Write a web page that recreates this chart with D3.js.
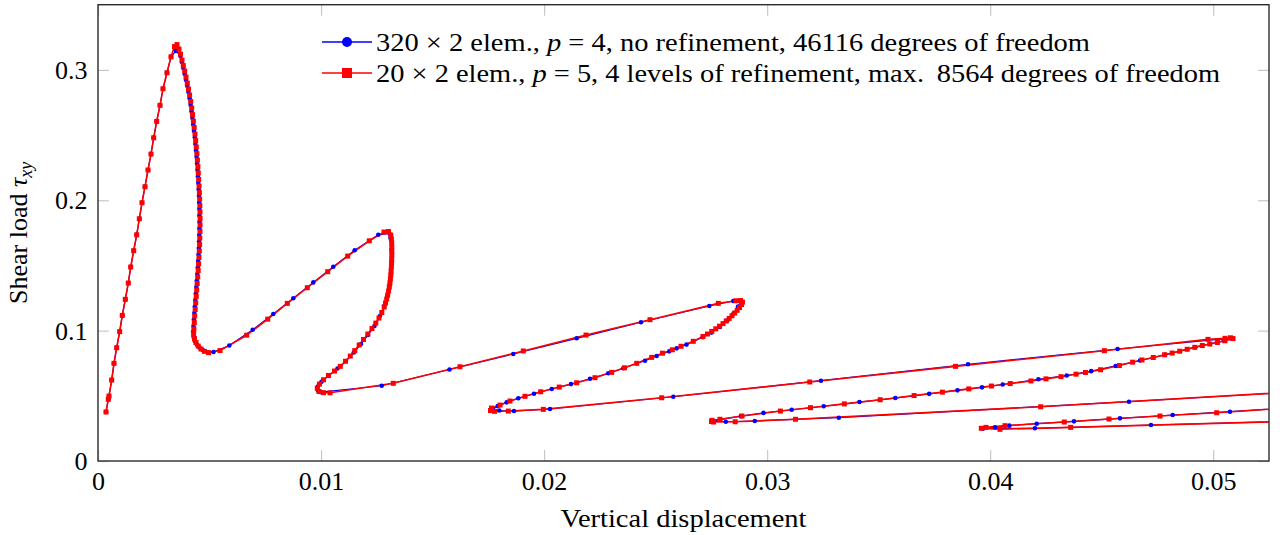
<!DOCTYPE html>
<html>
<head>
<meta charset="utf-8">
<script src="https://cdn.jsdelivr.net/npm/d3@7"></script>
<style>
  html, body { margin: 0; padding: 0; background: #fff; }
  svg { display: block; }
  text { font-family: "Liberation Serif", "Times New Roman", serif; fill: #000; }
</style>
</head>
<body>
<svg id="chart" width="1280" height="535"></svg>
<script>
// ---- axis ticks ----
const xTicks = [0, 0.01, 0.02, 0.03, 0.04, 0.05];
const xTickLabels = ["0", "0.01", "0.02", "0.03", "0.04", "0.05"];
const yTicks = [0, 0.1, 0.2, 0.3];
const yTickLabels = ["0", "0.1", "0.2", "0.3"];

// ---- load-displacement path, 320 x 2 elements, p = 4 ----
const blueX = [
  0.000359, 0.000462, 0.000493, 0.000614, 0.000717, 0.000838, 0.000973, 0.001089, 0.001224, 0.001358,
  0.001466, 0.001601, 0.001735, 0.001852, 0.001973, 0.002107, 0.002242, 0.002376, 0.002497, 0.002632,
  0.002780, 0.002914, 0.003093, 0.003273, 0.003497,
  0.003699, 0.003761, 0.003824, 0.003887, 0.003945, 0.004004, 0.004053, 0.004107, 0.004152, 0.004192,
  0.004232, 0.004268, 0.004304, 0.004340, 0.004367, 0.004394, 0.004420, 0.004443, 0.004461, 0.004479,
  0.004497, 0.004515, 0.004528, 0.004537, 0.004546, 0.004548, 0.004551, 0.004548, 0.004542, 0.004533,
  0.004521, 0.004508, 0.004492, 0.004474, 0.004454, 0.004432, 0.004409, 0.004387, 0.004364, 0.004342,
  0.004320, 0.004300, 0.004282, 0.004268, 0.004286, 0.004340, 0.004430, 0.004551, 0.004698, 0.005178,
  0.005887, 0.006936, 0.007859, 0.008756, 0.009652, 0.010549, 0.011508, 0.012567, 0.013069,
  0.013114, 0.013163, 0.013158, 0.013136, 0.013078, 0.012979, 0.012836, 0.012643, 0.012396, 0.012105,
  0.011791, 0.011468, 0.011118, 0.010737, 0.010334, 0.010020, 0.009854, 0.009863, 0.009998,
  0.012719, 0.015759, 0.018619, 0.021461, 0.024344, 0.027406, 0.028482, 0.028827,
  0.028693, 0.028491, 0.028222, 0.027886, 0.027505, 0.027110, 0.026384, 0.025945, 0.025613, 0.025048,
  0.024523, 0.023551, 0.022878, 0.022058, 0.021206, 0.020341, 0.019547, 0.018843, 0.018323, 0.017920,
  0.017709, 0.017992, 0.018650, 0.020264,
  0.025792, 0.032414, 0.039005, 0.045712, 0.050796,
  0.050482, 0.049182, 0.047837, 0.046716, 0.045626, 0.044528, 0.043430, 0.042161, 0.040560, 0.039632,
  0.038534, 0.037265, 0.035745, 0.034140, 0.032535, 0.031100, 0.029836, 0.028823, 0.027886, 0.027617,
  0.028146, 0.029446, 0.033212, 0.046223, 0.0560, 0.0560,
  0.050750, 0.048182, 0.045819, 0.043757, 0.042085, 0.040856, 0.040215, 0.039677,
  0.042008, 0.047209, 0.0560
];
const blueY = [
  0.0376, 0.0473, 0.0498, 0.0621, 0.0749, 0.0869, 0.0992, 0.1117, 0.1240, 0.1365,
  0.1488, 0.1613, 0.1735, 0.1858, 0.1981, 0.2104, 0.2232, 0.2354, 0.2479, 0.2605,
  0.2728, 0.2855, 0.2978, 0.3100, 0.3146,
  0.3106, 0.3060, 0.3014, 0.2968, 0.2922, 0.2876, 0.2830, 0.2780, 0.2730, 0.2680,
  0.2630, 0.2581, 0.2531, 0.2481, 0.2431, 0.2381, 0.2331, 0.2281, 0.2232, 0.2182,
  0.2132, 0.2082, 0.2032, 0.1982, 0.1933, 0.1883, 0.1833, 0.1783, 0.1733, 0.1683,
  0.1633, 0.1584, 0.1534, 0.1484, 0.1434, 0.1384, 0.1334, 0.1285, 0.1235, 0.1185,
  0.1135, 0.1085, 0.1035, 0.0993, 0.0951, 0.0920, 0.0893, 0.0870, 0.0851, 0.0836,
  0.0886, 0.1007, 0.1127, 0.1248, 0.1370, 0.1490, 0.1616, 0.1735, 0.1745,
  0.1710, 0.1618, 0.1526, 0.1434, 0.1350, 0.1265, 0.1189, 0.1112, 0.1035, 0.0966,
  0.0897, 0.0832, 0.0767, 0.0709, 0.0653, 0.0607, 0.0571, 0.0541, 0.0528,
  0.0577, 0.0702, 0.0821, 0.0941, 0.1064, 0.1189, 0.1227, 0.1223,
  0.1185, 0.1131, 0.1079, 0.1028, 0.0985, 0.0949, 0.0893, 0.0864, 0.0841, 0.0805,
  0.0769, 0.0711, 0.0673, 0.0631, 0.0590, 0.0552, 0.0516, 0.0481, 0.0450, 0.0422,
  0.0399, 0.0387, 0.0383, 0.0399,
  0.0493, 0.0616, 0.0742, 0.0859, 0.0942,
  0.0922, 0.0873, 0.0814, 0.0771, 0.0729, 0.0689, 0.0656, 0.0627, 0.0587, 0.0565,
  0.0542, 0.0515, 0.0483, 0.0452, 0.0420, 0.0393, 0.0369, 0.0344, 0.0318, 0.0305,
  0.0301, 0.0307, 0.0332, 0.0455, 0.0553, 0.0436,
  0.0378, 0.0353, 0.0327, 0.0304, 0.0286, 0.0271, 0.0258, 0.0248,
  0.0251, 0.0276, 0.0317
];

// ---- load-displacement path, 20 x 2 elements, p = 5, adaptive ----
const redX = [
  0.000359, 0.000462, 0.000493, 0.000614, 0.000717, 0.000838, 0.000973, 0.001089, 0.001224, 0.001358,
  0.001466, 0.001601, 0.001735, 0.001852, 0.001973, 0.002107, 0.002242, 0.002376, 0.002497, 0.002632,
  0.002780, 0.002914, 0.003093, 0.003273, 0.003430, 0.003542,
  0.003631, 0.003699, 0.003766, 0.003824, 0.003887, 0.003945, 0.004004, 0.004057, 0.004107, 0.004156,
  0.004200, 0.004241, 0.004277, 0.004313, 0.004349, 0.004380, 0.004407, 0.004434, 0.004456, 0.004479,
  0.004497, 0.004515, 0.004533, 0.004546, 0.004559, 0.004568, 0.004573, 0.004577, 0.004577, 0.004573,
  0.004564, 0.004555, 0.004542, 0.004528, 0.004510, 0.004492, 0.004470, 0.004447, 0.004425, 0.004403,
  0.004380, 0.004358, 0.004335, 0.004317, 0.004300, 0.004286, 0.004326, 0.004394, 0.004492, 0.004618,
  0.004775, 0.004954, 0.005470,
  0.006667, 0.007608, 0.008487, 0.009384, 0.010298, 0.011195, 0.012163, 0.012822, 0.013024,
  0.013127, 0.013154, 0.013167, 0.013172, 0.013172, 0.013172, 0.013167, 0.013163, 0.013154, 0.013140,
  0.013127, 0.013109, 0.013087, 0.013060, 0.013028, 0.012988, 0.012943, 0.012890, 0.012831, 0.012724,
  0.012598, 0.012455, 0.012284, 0.012096, 0.011903, 0.011710, 0.011513, 0.011311, 0.011096, 0.010863,
  0.010603, 0.010334, 0.010110, 0.009930, 0.009832, 0.009908, 0.010110, 0.010401,
  0.013239, 0.016229, 0.019067, 0.021878, 0.024748, 0.027810, 0.028603, 0.028805, 0.028895,
  0.028850, 0.028760, 0.028657, 0.028545, 0.028424, 0.028299, 0.028164, 0.028021, 0.027864, 0.027697,
  0.027518, 0.027326, 0.027124, 0.026689, 0.026138, 0.025747, 0.025308, 0.024824, 0.024151, 0.023605,
  0.023031, 0.022282, 0.021461, 0.020681, 0.019848, 0.019144, 0.018471, 0.018023, 0.017642, 0.017597,
  0.017776, 0.018395, 0.019964,
  0.025272, 0.031912, 0.038448, 0.045120, 0.049765, 0.050527, 0.050773, 0.050886,
  0.050522, 0.050186, 0.049845, 0.049509, 0.049173, 0.048832, 0.048496, 0.048159, 0.047819, 0.047312,
  0.046805, 0.046384, 0.045792, 0.044949, 0.044272, 0.043851, 0.043174, 0.042502, 0.041825, 0.040897,
  0.040054, 0.039040, 0.037857, 0.036588, 0.035068, 0.033463, 0.031943, 0.030594, 0.028872, 0.027886,
  0.027527, 0.027505, 0.027594,
  0.028567, 0.031271, 0.042264, 0.0560, 0.0560,
  0.050154, 0.047612, 0.045326, 0.043322, 0.040663, 0.039811, 0.039601,
  0.040439, 0.043609, 0.0560
];
const redY = [
  0.0376, 0.0473, 0.0498, 0.0621, 0.0749, 0.0869, 0.0992, 0.1117, 0.1240, 0.1365,
  0.1488, 0.1613, 0.1735, 0.1858, 0.1981, 0.2104, 0.2232, 0.2354, 0.2479, 0.2605,
  0.2728, 0.2855, 0.2978, 0.3100, 0.3179, 0.3194,
  0.3160, 0.3121, 0.3075, 0.3033, 0.2991, 0.2945, 0.2899, 0.2853, 0.2807, 0.2757,
  0.2707, 0.2657, 0.2607, 0.2558, 0.2508, 0.2458, 0.2408, 0.2358, 0.2308, 0.2258,
  0.2209, 0.2159, 0.2109, 0.2059, 0.2009, 0.1959, 0.1910, 0.1860, 0.1810, 0.1760,
  0.1710, 0.1660, 0.1610, 0.1561, 0.1511, 0.1461, 0.1411, 0.1361, 0.1311, 0.1262,
  0.1212, 0.1162, 0.1112, 0.1062, 0.1012, 0.0974, 0.0939, 0.0909, 0.0882, 0.0859,
  0.0841, 0.0831, 0.0847,
  0.0965, 0.1088, 0.1209, 0.1329, 0.1452, 0.1572, 0.1689, 0.1756, 0.1760,
  0.1733, 0.1702, 0.1672, 0.1641, 0.1610, 0.1580, 0.1549, 0.1518, 0.1488, 0.1457,
  0.1426, 0.1396, 0.1365, 0.1334, 0.1304, 0.1273, 0.1242, 0.1212, 0.1181, 0.1139,
  0.1097, 0.1058, 0.1016, 0.0974, 0.0932, 0.0890, 0.0847, 0.0805, 0.0765, 0.0726,
  0.0690, 0.0656, 0.0623, 0.0590, 0.0558, 0.0533, 0.0524, 0.0523,
  0.0596, 0.0723, 0.0844, 0.0966, 0.1084, 0.1209, 0.1229, 0.1231, 0.1219,
  0.1200, 0.1177, 0.1156, 0.1135, 0.1114, 0.1094, 0.1074, 0.1054, 0.1034, 0.1014,
  0.0994, 0.0974, 0.0955, 0.0918, 0.0880, 0.0853, 0.0827, 0.0795, 0.0749, 0.0715,
  0.0680, 0.0639, 0.0600, 0.0567, 0.0531, 0.0496, 0.0460, 0.0429, 0.0406, 0.0387,
  0.0381, 0.0383, 0.0396,
  0.0485, 0.0606, 0.0726, 0.0846, 0.0933, 0.0941, 0.0945, 0.0939,
  0.0922, 0.0909, 0.0897, 0.0886, 0.0872, 0.0857, 0.0842, 0.0828, 0.0815, 0.0794,
  0.0775, 0.0758, 0.0732, 0.0700, 0.0679, 0.0666, 0.0647, 0.0630, 0.0614, 0.0594,
  0.0575, 0.0553, 0.0528, 0.0502, 0.0470, 0.0438, 0.0409, 0.0383, 0.0345, 0.0320,
  0.0312, 0.0303, 0.0299,
  0.0301, 0.0320, 0.0416, 0.0554, 0.0436,
  0.0370, 0.0345, 0.0322, 0.0299, 0.0271, 0.0258, 0.0251,
  0.0243, 0.0258, 0.0317
];

const legendBlue = ["320 \u00d7 2 elem., ", "p", " = 4, no refinement, 46116 degrees of freedom"];
const legendRed = ["20 \u00d7 2 elem., ", "p", " = 5, 4 levels of refinement, max.\u2009 8564 degrees of freedom"];

// ---- layout ----
const W = 1280, H = 535;
const box = { left: 98, right: 1269, top: 4.7, bottom: 461 };
const TICK = 11;
const FONT = 26;

const svg = d3.select("#chart");
const x = d3.scaleLinear().domain([0, 0.0525]).range([box.left, box.right]);
const y = d3.scaleLinear().domain([0, 0.35]).range([box.bottom, box.top]);

svg.append("rect").attr("width", W).attr("height", H).attr("fill", "#fff");

// tick marks on all four sides, pointing inward
function styleAxis(g) {
  g.select(".domain").remove();
  g.selectAll(".tick line").attr("stroke", "#c8c8c8").attr("stroke-width", 1.2);
  g.selectAll("text").attr("font-family", '"Liberation Serif", serif').attr("font-size", FONT).attr("fill", "#000");
}

svg.append("g")
  .attr("transform", `translate(0,${box.bottom})`)
  .call(d3.axisBottom(x).tickValues(xTicks).tickFormat((d, i) => xTickLabels[i])
    .tickSizeInner(-TICK).tickSizeOuter(0))
  .call(styleAxis)
  .call(g => g.selectAll("text").attr("y", 29).attr("dy", null));

svg.append("g")
  .attr("transform", `translate(0,${box.top})`)
  .call(d3.axisTop(x).tickValues(xTicks).tickFormat("").tickSizeInner(-TICK).tickSizeOuter(0))
  .call(styleAxis);

svg.append("g")
  .attr("transform", `translate(${box.left},0)`)
  .call(d3.axisLeft(y).tickValues(yTicks).tickFormat((d, i) => yTickLabels[i])
    .tickSizeInner(-TICK).tickSizeOuter(0))
  .call(styleAxis)
  .call(g => g.selectAll("text").attr("x", -10.5).attr("dy", "0.33em"));

svg.append("g")
  .attr("transform", `translate(${box.right},0)`)
  .call(d3.axisRight(y).tickValues(yTicks).tickFormat("").tickSizeInner(-TICK).tickSizeOuter(0))
  .call(styleAxis);

// plotted curves, clipped to the axis box
svg.append("clipPath").attr("id", "plot-clip")
  .append("rect")
  .attr("x", box.left).attr("y", box.top)
  .attr("width", box.right - box.left).attr("height", box.bottom - box.top);

const plot = svg.append("g").attr("clip-path", "url(#plot-clip)");
const bluePts = blueX.map((v, i) => [v, blueY[i]]);
const redPts = redX.map((v, i) => [v, redY[i]]);
const line = d3.line().x(d => x(d[0])).y(d => y(d[1]));

plot.append("path").datum(bluePts).attr("d", line)
  .attr("fill", "none").attr("stroke", "#0000ff").attr("stroke-width", 1.2).attr("stroke-linejoin", "round");
plot.append("path").datum(redPts).attr("d", line)
  .attr("fill", "none").attr("stroke", "#ff0000").attr("stroke-width", 1.6).attr("stroke-linejoin", "round");

plot.append("g").selectAll("circle").data(bluePts).join("circle")
  .attr("cx", d => x(d[0])).attr("cy", d => y(d[1])).attr("r", 2.3).attr("fill", "#0000ff");

const SQ = 5;
plot.append("g").selectAll("rect").data(redPts).join("rect")
  .attr("x", d => x(d[0]) - SQ / 2).attr("y", d => y(d[1]) - SQ / 2)
  .attr("width", SQ).attr("height", SQ).attr("fill", "#ff0000");

// frame
svg.append("rect")
  .attr("x", box.left).attr("y", box.top)
  .attr("width", box.right - box.left).attr("height", box.bottom - box.top)
  .attr("fill", "none").attr("stroke", "#2b2b2b").attr("stroke-width", 1.4);

// legend
const legend = svg.append("g");
const rows = [
  { parts: legendBlue, color: "#0000ff", mark: "circle", y: 42, len: 714 },
  { parts: legendRed, color: "#ff0000", mark: "square", y: 73, len: 844 }
];
rows.forEach(r => {
  legend.append("line").attr("x1", 322).attr("x2", 372).attr("y1", r.y).attr("y2", r.y)
    .attr("stroke", r.color).attr("stroke-width", 1.4);
  if (r.mark === "circle") {
    legend.append("circle").attr("cx", 347).attr("cy", r.y).attr("r", 5).attr("fill", r.color);
  } else {
    legend.append("rect").attr("x", 342).attr("y", r.y - 5).attr("width", 10).attr("height", 10).attr("fill", r.color);
  }
  const t = legend.append("text").attr("x", 376).attr("y", r.y + 9)
    .attr("font-size", FONT).attr("textLength", r.len).attr("lengthAdjust", "spacingAndGlyphs")
    .attr("xml:space", "preserve");
  t.append("tspan").text(r.parts[0]);
  t.append("tspan").attr("font-style", "italic").text(r.parts[1]);
  t.append("tspan").text(r.parts[2]);
});

// axis titles
svg.append("text")
  .attr("x", (box.left + box.right) / 2).attr("y", 527)
  .attr("text-anchor", "middle").attr("font-size", FONT)
  .attr("textLength", 246).attr("lengthAdjust", "spacingAndGlyphs")
  .text("Vertical displacement");

const yTitle = svg.append("text")
  .attr("transform", `translate(27,${(box.top + box.bottom) / 2}) rotate(-90)`)
  .attr("text-anchor", "middle").attr("font-size", FONT);
yTitle.append("tspan").text("Shear load ");
yTitle.append("tspan").attr("font-style", "italic").text("\u03c4");
yTitle.append("tspan").attr("font-style", "italic").attr("font-size", 18).attr("dy", 5).text("xy");
</script>
</body>
</html>
